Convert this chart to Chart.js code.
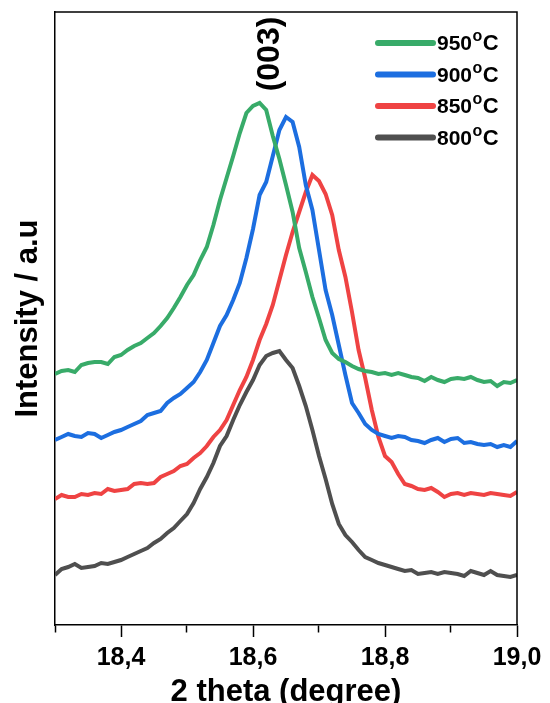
<!DOCTYPE html>
<html>
<head>
<meta charset="utf-8">
<script src="https://cdn.jsdelivr.net/npm/chart.js@4.4.1/dist/chart.umd.min.js"></script>
<style>
  html, body { margin: 0; padding: 0; background: #fff; }
  #wrap { width: 550px; height: 703px; }
</style>
</head>
<body>
<div id="wrap"><canvas id="xrdChart" width="550" height="703"></canvas></div>
<script>
// 2 theta (degree)
const twoTheta = [
    18.30, 18.31, 18.32, 18.33, 18.34, 18.35, 18.36, 18.37, 18.38, 18.39,
    18.40, 18.41, 18.42, 18.43, 18.44, 18.45, 18.46, 18.47, 18.48, 18.49,
    18.50, 18.51, 18.52, 18.53, 18.54, 18.55, 18.56, 18.57, 18.58, 18.59,
    18.60, 18.61, 18.62, 18.63, 18.64, 18.65, 18.66, 18.67, 18.68, 18.69,
    18.70, 18.71, 18.72, 18.73, 18.74, 18.75, 18.76, 18.77, 18.78, 18.79,
    18.80, 18.81, 18.82, 18.83, 18.84, 18.85, 18.86, 18.87, 18.88, 18.89,
    18.90, 18.91, 18.92, 18.93, 18.94, 18.95, 18.96, 18.97, 18.98, 18.99,
    19.00,
];

// stacked intensities (a.u), already offset as in the figure
const int950 = [
    251, 254, 255, 253, 260, 262, 263, 263, 261, 268,
    270, 275, 279, 282, 287, 292, 299, 307, 317, 328,
    340, 350, 365, 378, 400, 425, 447, 469, 492, 512,
    519, 522, 515, 489, 466, 440, 413, 377, 353, 328,
    307, 285, 272, 266, 263, 259, 256, 254, 253, 251,
    252, 250, 252, 250, 248, 247, 244, 248, 245, 243,
    246, 247, 246, 248, 245, 243, 244, 239, 243, 242,
    245,
];
const int900 = [
    185, 188, 191, 189, 188, 192, 191, 187, 190, 193,
    195, 198, 201, 204, 210, 212, 214, 222, 227, 231,
    237, 243, 253, 265, 282, 299, 310, 325, 342, 367,
    396, 430, 443, 469, 495, 508, 503, 478, 440, 415,
    375, 335, 310, 280, 250, 222, 212, 201, 195, 191,
    189, 187, 189, 188, 185, 184, 182, 185, 187, 183,
    186, 187, 182, 183, 181, 180, 181, 178, 180, 178,
    184,
];
const int850 = [
    126, 130, 128, 128, 131, 130, 132, 131, 136, 134,
    135, 136, 141, 142, 141, 142, 148, 151, 154, 159,
    161, 167, 172, 179, 188, 195, 205, 220, 235, 248,
    265, 285, 301, 320, 345, 370, 393, 413, 433, 450,
    444, 431, 410, 375, 348, 313, 275, 247, 215, 188,
    169, 163, 151, 141, 139, 136, 135, 137, 133, 128,
    131, 132, 130, 132, 131, 130, 132, 131, 130, 129,
    133,
];
const int800 = [
    50, 56, 58, 61, 57, 58, 59, 62, 61, 63,
    65, 68, 71, 74, 77, 82, 86, 92, 97, 104,
    111, 122, 136, 148, 162, 179, 189, 205, 220, 233,
    245, 260, 269, 272, 274, 265, 257, 239, 219, 195,
    169, 146, 121, 101, 90, 83, 75, 68, 65, 62,
    60, 58, 56, 54, 55, 51, 52, 53, 51, 53,
    52, 51, 49, 54, 52, 50, 54, 50, 49, 48,
    50,
];

const seriesTemps = ["950", "900", "850", "800"];
const peakLabel = "(003)";
const peakPos = 18.626;

const FONT = "'Liberation Sans', Arial, sans-serif";

function toPoints(ys) {
    return ys.map((y, i) => ({ x: twoTheta[i], y: y }));
}

// frame, legend and peak label drawn on top
const decorPlugin = {
    id: "decor",
    afterDraw(chart) {
        const ctx = chart.ctx;
        const area = chart.chartArea;
        ctx.save();

        // top + right border of the box
        ctx.strokeStyle = "#000";
        ctx.lineWidth = 1.5;
        ctx.beginPath();
        ctx.moveTo(area.left, area.top);
        ctx.lineTo(area.right, area.top);
        ctx.lineTo(area.right, area.bottom);
        ctx.stroke();

        // legend
        let rowY = area.top + 31;
        chart.data.datasets.forEach((ds) => {
            let x0 = area.right - 139;
            ctx.strokeStyle = ds.borderColor;
            ctx.lineWidth = 6;
            ctx.lineCap = "round";
            ctx.beginPath();
            ctx.moveTo(x0, rowY);
            ctx.lineTo(x0 + 55, rowY);
            ctx.stroke();

            ctx.fillStyle = "#000";
            ctx.textBaseline = "alphabetic";
            ctx.textAlign = "left";
            let tx = x0 + 59;
            ctx.font = "bold 21px " + FONT;
            ctx.fillText(ds.label, tx, rowY + 7);
            tx += ctx.measureText(ds.label).width;
            ctx.font = "bold 16px " + FONT;
            ctx.fillText("o", tx + 0.5, rowY - 2);
            tx += ctx.measureText("o").width + 1;
            ctx.font = "bold 22px " + FONT;
            ctx.fillText("C", tx, rowY + 7);
            rowY += 31.5;
        });

        // (003) label
        const px = chart.scales.x.getPixelForValue(peakPos);
        ctx.translate(px, 54);
        ctx.rotate(-Math.PI / 2);
        ctx.font = "bold 32px " + FONT;
        ctx.textAlign = "center";
        ctx.textBaseline = "middle";
        ctx.fillStyle = "#000";
        ctx.fillText(peakLabel, 0, 0);
        ctx.restore();
    },
};

const colors = ["#38ab69", "#1c6ee0", "#ef4343", "#4f4f4f"];
const seriesData = [int950, int900, int850, int800];

new Chart(document.getElementById("xrdChart"), {
    type: "line",
    data: {
        datasets: seriesTemps.map((t, i) => ({
            label: t,
            data: toPoints(seriesData[i]),
            borderColor: colors[i],
            borderWidth: 4,
            pointRadius: 0,
            tension: 0,
            fill: false,
        })),
    },
    options: {
        responsive: false,
        animation: false,
        layout: { padding: { top: 12, right: 33, bottom: 0, left: 0 } },
        plugins: {
            legend: { display: false },
            tooltip: { enabled: false },
        },
        scales: {
            x: {
                type: "linear",
                min: 18.3,
                max: 19.0,
                ticks: {
                    stepSize: 0.1,
                    autoSkip: false,
                    maxRotation: 0,
                    padding: 6,
                    color: "#000",
                    font: { family: FONT, size: 25, weight: "bold" },
                    callback: function (value) {
                        if (Math.round(value * 10) % 2 != 0) {
                            return "";
                        }
                        return value.toFixed(1).replace(".", ",");
                    },
                },
                grid: {
                    drawOnChartArea: false,
                    drawTicks: true,
                    tickLength: 12,
                    tickColor: "#000",
                    tickWidth: 1.5,
                    tickBorderDash: (c) => {
                        if (c.tick && Math.round(c.tick.value * 10) % 2 != 0) {
                            return [7, 30];
                        }
                        return [];
                    },
                },
                border: { display: true, color: "#000", width: 1.5 },
                title: {
                    display: true,
                    text: "2 theta (degree)",
                    color: "#000",
                    font: { family: FONT, size: 31, weight: "bold", lineHeight: 0.71 },
                    padding: { top: 0, bottom: 0 },
                },
                afterFit: (s) => {
                    s.height = 78;
                },
            },
            y: {
                min: 0,
                max: 613,
                ticks: { display: false },
                grid: { display: false },
                border: { display: true, color: "#000", width: 1.5 },
                title: {
                    display: true,
                    text: "Intensity / a.u",
                    color: "#000",
                    font: { family: FONT, size: 31, weight: "bold" },
                    padding: { top: 10, bottom: 0 },
                },
                afterFit: (s) => {
                    s.width = 55;
                },
            },
        },
    },
    plugins: [decorPlugin],
});
</script>
</body>
</html>
